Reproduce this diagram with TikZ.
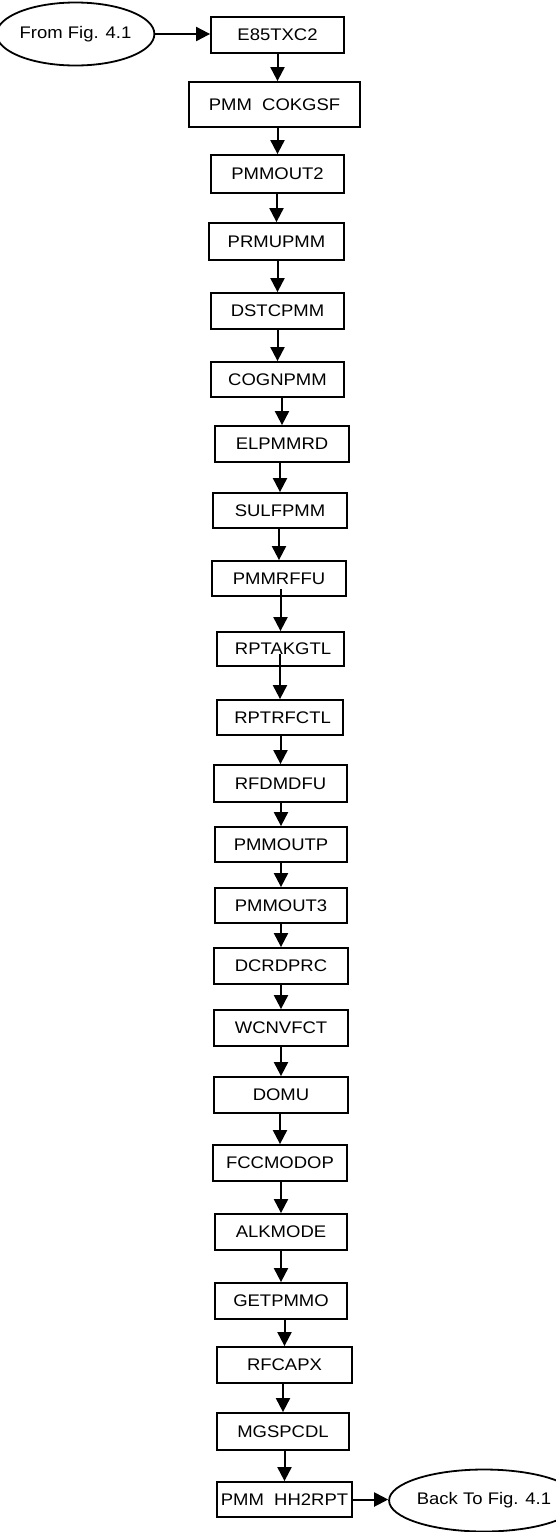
\documentclass[tikz,border=0pt]{standalone}
\usepackage{fontspec}
\setmainfont{Liberation Sans}
\usetikzlibrary{arrows.meta,shapes.geometric}
\newcommand{\wtxt}[1]{\scalebox{1.1}[1]{#1}}
\tikzset{
  box/.style={draw, line width=1.8pt, rectangle, inner sep=0pt, font=\fontsize{16.8}{19}\selectfont},
  term/.style={draw, line width=1.8pt, ellipse, inner sep=0pt, font=\fontsize{16.8}{19}\selectfont},
  arr/.style={line width=2pt, -{Triangle[length=14pt,width=14pt]}}
}
\begin{document}
\begin{tikzpicture}[x=1pt,y=-1pt]
\useasboundingbox (0,0) rectangle (556,1532);
\node[term, minimum width=144pt, minimum height=63pt] (from) at (75.5,34) {\wtxt{From Fig. 4.1}};
\node[term, minimum width=143pt, minimum height=62pt] (back) at (484,1500.5) {\wtxt{Back To Fig. 4.1}};
\node[box, minimum width=133pt, minimum height=36pt] (b1) at (277.5,35) {\wtxt{E85TXC2}};
\node[box, minimum width=171pt, minimum height=45pt] (b2) at (274.5,104.5) {\wtxt{PMM~~COKGSF}};
\node[box, minimum width=133pt, minimum height=38pt] (b3) at (277.5,174) {\wtxt{PMMOUT2}};
\node[box, minimum width=135pt, minimum height=37pt] (b4) at (276.5,241.5) {\wtxt{PRMUPMM}};
\node[box, minimum width=133pt, minimum height=36pt] (b5) at (277.5,311) {\wtxt{DSTCPMM}};
\node[box, minimum width=133pt, minimum height=35pt] (b6) at (277.5,379.5) {\wtxt{COGNPMM}};
\node[box, minimum width=134pt, minimum height=36pt] (b7) at (282,444) {\wtxt{ELPMMRD}};
\node[box, minimum width=134pt, minimum height=35pt] (b8) at (280,510.5) {\wtxt{SULFPMM}};
\node[box, minimum width=134pt, minimum height=35pt] (b9) at (279,578.5) {\wtxt{PMMRFFU}};
\node[box, minimum width=127pt, minimum height=34pt] (b10) at (280.5,649) {\wtxt{~RPTAKGTL}};
\node[box, minimum width=126pt, minimum height=35pt] (b11) at (280,717.5) {\wtxt{~RPTRFCTL}};
\node[box, minimum width=133pt, minimum height=37pt] (b12) at (280.5,783.5) {\wtxt{RFDMDFU}};
\node[box, minimum width=132pt, minimum height=35pt] (b13) at (281,844.5) {\wtxt{PMMOUTP}};
\node[box, minimum width=132pt, minimum height=35pt] (b14) at (281,905.5) {\wtxt{PMMOUT3}};
\node[box, minimum width=134pt, minimum height=36pt] (b15) at (281,966) {\wtxt{DCRDPRC}};
\node[box, minimum width=134pt, minimum height=36pt] (b16) at (281,1028) {\wtxt{WCNVFCT}};
\node[box, minimum width=134pt, minimum height=36pt] (b17) at (281,1095) {\wtxt{DOMU}};
\node[box, minimum width=134pt, minimum height=36pt] (b18) at (280,1163) {\wtxt{FCCMODOP}};
\node[box, minimum width=132pt, minimum height=36pt] (b19) at (281,1232) {\wtxt{ALKMODE}};
\node[box, minimum width=132pt, minimum height=36pt] (b20) at (281,1301) {\wtxt{GETPMMO}};
\node[box, minimum width=135pt, minimum height=36pt] (b21) at (284.5,1365) {\wtxt{RFCAPX}};
\node[box, minimum width=132pt, minimum height=37pt] (b22) at (283,1431.5) {\wtxt{MGSPCDL}};
\node[box, minimum width=135pt, minimum height=35pt] (b23) at (284.5,1499.5) {\wtxt{PMM~~HH2RPT}};
% connectors
\draw[arr] (from.east) -- (from.east -| b1.west);
\draw[arr] (b1.south) -- (b1.south |- b2.north);
\foreach \a/\b in {2/3,3/4,4/5,5/6,6/7,7/8,8/9,11/12,12/13,13/14,14/15,15/16,16/17,17/18,18/19,19/20,20/21,21/22,22/23}{
  \draw[arr] (b\a.south -| b\b.north) -- (b\b.north);
}
\draw[arr] ([yshift=8pt]b9.south -| b10.north) -- (b10.north);
\draw[arr] ([yshift=13pt]b10.south -| b11.north) -- (b11.north);
\draw[arr] (b23.east) -- (b23.east -| back.west);
\end{tikzpicture}
\end{document}
